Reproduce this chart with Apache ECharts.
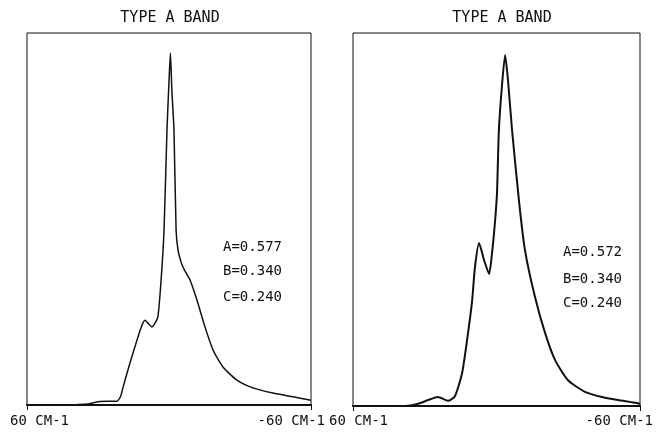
<!DOCTYPE html>
<html>
<head>
<meta charset="utf-8">
<script src="https://cdn.jsdelivr.net/npm/echarts@6/dist/echarts.min.js"></script>
<style>
  html, body { margin: 0; padding: 0; background: #fff; }
  #main { width: 656px; height: 432px; }
</style>
</head>
<body>
<div id="main"></div>
<script>
// band contours (x in cm-1, y in % of frame height)
const leftX = [60, 46, 34, 30, 26, 22, 20.5, 19.4, 16.5, 13.5, 11.4, 10.1, 8.9, 7.2, 5.9, 4.7, 3.4, 2.1, 0.85, 0, -0.6, -1.2, -2.1, -3.0, -3.8, -5.1, -5.9, -7.2, -8.9, -11.8, -15.2, -18.6, -22.8, -28.7, -35.5, -43.9, -52.4, -60]
const leftY = [0, 0, 0.3, 0.9, 1.0, 1.0, 2.2, 4.8, 11.3, 17.5, 21.5, 22.8, 22, 21.0, 22, 23.7, 33, 47, 74, 87, 94.6, 84.7, 74, 47, 41.7, 38.4, 37.1, 35.5, 33.6, 28.2, 21.0, 14.8, 10.2, 6.7, 4.6, 3.2, 2.2, 1.3]

const rightX = [60, 38, 32.8, 28.6, 24.5, 20.3, 17.4, 14.4, 12.3, 10.2, 9.0, 7.3, 5.2, 3.1, 1.9, 0.6, -0.2, -1.0, -2.3, -3.6, -4.8, -6.5, -9.4, -11.9, -16.1, -20.3, -24.5, -29.9, -37.0, -44.1, -50.8, -58.7, -60]
const rightY = [0, 0, 0.6, 1.6, 2.4, 1.4, 2.6, 8.8, 17.7, 28.2, 37.3, 43.7, 39.1, 35.4, 40.8, 49.6, 57, 74, 86, 94.1, 87.4, 74, 55, 41.8, 29.2, 19.6, 12.3, 6.9, 3.8, 2.4, 1.6, 0.8, 0.5]

const leftParams = ['A=0.577', 'B=0.340', 'C=0.240']
const rightParams = ['A=0.572', 'B=0.340', 'C=0.240']
const bandTitle = 'TYPE A BAND'
const edgeLabels = ['60 CM-1', '-60 CM-1']

const font = '"DejaVu Sans Mono", monospace'

function pairs(xs, ys) {
  return xs.map((x, i) => [x, ys[i]])
}

function txt(x, y, text, size, align) {
  return {
    type: 'text', x: x, y: y,
    style: { text: text, fill: '#111', font: size + 'px ' + font, textAlign: align || 'left', textVerticalAlign: 'middle' }
  }
}

const chart = echarts.init(document.getElementById('main'))

const xBottom = (gi) => ({
  type: 'value', gridIndex: gi, min: -60, max: 60, inverse: true, position: 'bottom',
  axisLine: { show: true, onZero: false, lineStyle: { color: '#111', width: 1.5 } },
  axisTick: { show: true, length: 5, customValues: [-60, 60], lineStyle: { color: '#111' } },
  axisLabel: { show: false },
  splitLine: { show: false }
})
const xTop = (gi) => ({
  type: 'value', gridIndex: gi, min: -60, max: 60, inverse: true, position: 'top',
  axisLine: { show: true, lineStyle: { color: '#111', width: 2 } },
  axisTick: { show: false }, axisLabel: { show: false }, splitLine: { show: false }
})
const yAx = (gi) => ({
  type: 'value', gridIndex: gi, min: 0, max: 100,
  axisLine: { show: false }, axisTick: { show: false }, axisLabel: { show: false }, splitLine: { show: false }
})

const option = {
  animation: false,
  backgroundColor: '#fff',
  grid: [
    { left: 27, right: 345, top: 33, bottom: 27, show: true, borderColor: '#111', borderWidth: 1 },
    { left: 353, right: 16, top: 33, bottom: 26, show: true, borderColor: '#111', borderWidth: 1 }
  ],
  xAxis: [xBottom(0), xTop(0), xBottom(1), xTop(1)],
  yAxis: [yAx(0), yAx(1)],
  series: [
    {
      type: 'line', xAxisIndex: 0, yAxisIndex: 0, data: pairs(leftX, leftY),
      showSymbol: false, smooth: 0.2,
      lineStyle: { color: '#111', width: 1.5 }
    },
    {
      type: 'line', xAxisIndex: 2, yAxisIndex: 1, data: pairs(rightX, rightY),
      showSymbol: false, smooth: 0.2,
      lineStyle: { color: '#111', width: 2 }
    }
  ],
  graphic: [
    txt(170, 18, bandTitle, 15, 'center'),
    txt(502, 18, bandTitle, 15, 'center'),
    txt(223, 247, leftParams[0], 14),
    txt(223, 271, leftParams[1], 14),
    txt(223, 297, leftParams[2], 14),
    txt(563, 252, rightParams[0], 14),
    txt(563, 279, rightParams[1], 14),
    txt(563, 303, rightParams[2], 14),
    txt(10, 421, edgeLabels[0], 14),
    txt(325, 421, edgeLabels[1], 14, 'right'),
    txt(329, 421, edgeLabels[0], 14),
    txt(653, 421, edgeLabels[1], 14, 'right')
  ]
}
chart.setOption(option)
</script>
</body>
</html>
